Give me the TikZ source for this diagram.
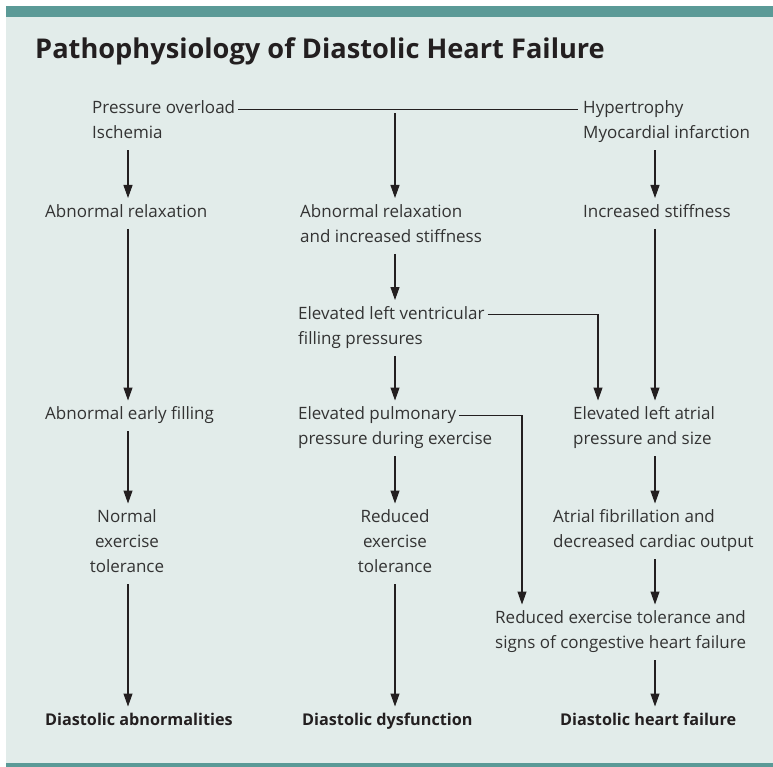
\documentclass[tikz,border=0pt]{standalone}
\usepackage{fontspec}
\setmainfont{Open Sans}
\usetikzlibrary{arrows.meta}

\definecolor{barteal}{HTML}{5B9A97}
\definecolor{panelbg}{HTML}{E2ECEA}
\definecolor{txtgrey}{HTML}{333333}
\definecolor{inkdark}{HTML}{231F20}
\newcommand{\depthrule}{\rule[-7.5pt]{0pt}{7.5pt}}

\begin{document}
\begin{tikzpicture}[x=1pt, y=-1pt,
    txt/.style={inner sep=0pt, align=left, anchor=north west, text=txtgrey,
        font=\fontsize{17}{25}\selectfont, execute at end node=\depthrule},
    ctxt/.style={txt, align=center, anchor=north},
    lbl/.style={inner sep=0pt, anchor=north west, text=inkdark,
        font=\bfseries\fontsize{16.2}{25}\selectfont},
    ln/.style={line width=1.1pt, draw=inkdark},
    arr/.style={ln, -{Triangle[length=13pt,width=9pt]}, shorten <=4pt, shorten >=6pt}]
    % panel and bars
    \useasboundingbox (0,0) rectangle (773,767);
    \fill[panelbg] (6,17) rectangle (773,763);
    \fill[barteal] (6,6) rectangle (773,17);
    \fill[barteal] (6,763) rectangle (773,767);
    \node[inner sep=0pt, anchor=base west, text=inkdark,
        font=\bfseries\fontsize{27.2}{30}\selectfont] (title) at (35,58.5)
        {Pathophysiology of Diastolic Heart Failure};

    % columns
    \coordinate (cl) at (128,0);
    \coordinate (cm) at (395,0);
    \coordinate (cb) at (598,0);
    \coordinate (cp) at (522,0);
    \coordinate (cr) at (655,0);

    % causes
    \node[txt] (po) at (92,100.5) {Pressure overload\\Ischemia};
    \node[txt] (hy) at (583,100.5) {Hypertrophy\\Myocardial infarction};
    % first effects
    \node[txt] (ar) at (45,204) {Abnormal relaxation};
    \node[txt] (ars) at (300,204) {Abnormal relaxation\\and increased stiffness};
    \node[txt] (is) at (583,204) {Increased stiffness};
    \node[txt] (elv) at (298,306) {Elevated left ventricular\\filling pressures};
    % filling and pressures
    \node[txt] (aef) at (45,406.5) {Abnormal early filling};
    \node[txt] (epp) at (298,406.5) {Elevated pulmonary\\pressure during exercise};
    \node[txt] (ela) at (573,406.5) {Elevated left atrial\\pressure and size};
    % tolerance
    \node[ctxt] (net) at (127,509.5) {Normal\\exercise\\tolerance};
    \node[ctxt] (ret) at (395,509.5) {Reduced\\exercise\\tolerance};
    \node[txt] (af) at (553,509.5) {Atrial fibrillation and\\decreased cardiac output};
    \node[txt] (rcf) at (495,610.5) {Reduced exercise tolerance and\\signs of congestive heart failure};
    % outcomes
    \node[lbl] (da) at (45,712.5) {Diastolic abnormalities};
    \node[lbl] (dd) at (302,712.5) {Diastolic dysfunction};
    \node[lbl] (dh) at (560,712.5) {Diastolic heart failure};

    % top split line
    \draw[ln] ([xshift=3pt,yshift=-8.6pt]po.north east) coordinate (poR)
        -- ([xshift=-5pt,yshift=-8.6pt]hy.north west);
    \draw[arr] (poR -| cm) -- (ars.north -| cm);

    % left column
    \draw[arr] (po.south -| cl) -- (ar.north -| cl);
    \draw[arr] (ar.south -| cl) -- (aef.north -| cl);
    \draw[arr] (aef.south -| cl) -- (net.north -| cl);
    \draw[arr] (net.south -| cl) -- (da.north -| cl);

    % middle column
    \draw[arr] (ars.south -| cm) -- (elv.north -| cm);
    \draw[arr] (elv.south -| cm) -- (epp.north -| cm);
    \draw[arr] (epp.south -| cm) -- (ret.north -| cm);
    \draw[arr] (ret.south -| cm) -- (dd.north -| cm);

    % right column
    \draw[arr] (hy.south -| cr) -- (is.north -| cr);
    \draw[arr] (is.south -| cr) -- (ela.north -| cr);
    \draw[arr] (ela.south -| cr) -- (af.north -| cr);
    \draw[arr] (af.south -| cr) -- (rcf.north -| cr);
    \draw[arr] (rcf.south -| cr) -- (dh.north -| cr);

    % cross links
    \draw[arr, shorten <=0pt] ([xshift=3pt,yshift=-8.6pt]elv.north east) -| (ela.north -| cb);
    \draw[arr, shorten <=0pt] ([xshift=-33pt,yshift=-8.6pt]epp.north east) -| (rcf.north -| cp);
\end{tikzpicture}
\end{document}
